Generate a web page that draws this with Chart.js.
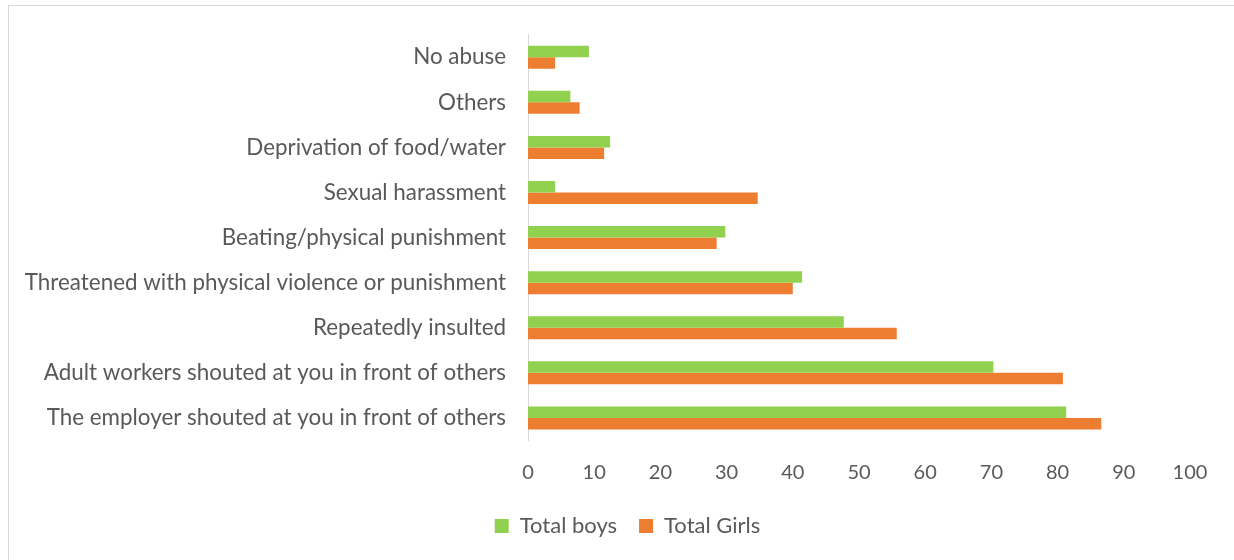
<!DOCTYPE html>
<html>
<head>
<meta charset="utf-8">
<script src="https://cdn.jsdelivr.net/npm/chart.js@4.4.0/dist/chart.umd.min.js"></script>
<style>
  html, body { margin: 0; padding: 0; background: #fff; }
  #wrap {
    position: absolute; left: 8px; top: 5px;
    width: 1240px; height: 570px;
    border: 1px solid #d9d9d9; box-sizing: border-box;
  }
  #box { position: absolute; left: 0; top: 0; width: 1226px; height: 555px; }
</style>
</head>
<body>
<div id="wrap"><div id="box"><canvas id="myChart"></canvas></div></div>
<script>
// abuse categories, listed top to bottom
const CATEGORIES = [
    'No abuse',
    'Others',
    'Deprivation of food/water',
    'Sexual harassment',
    'Beating/physical punishment',
    'Threatened with physical violence or punishment',
    'Repeatedly insulted',
    'Adult workers shouted at you in front of others',
    'The employer shouted at you in front of others'
];
const BOYS = [9.2, 6.4, 12.4, 4.1, 29.8, 41.4, 47.7, 70.3, 81.3];
const GIRLS = [4.1, 7.8, 11.5, 34.7, 28.5, 40.0, 55.7, 80.8, 86.6];
const X_TICKS = [0, 10, 20, 30, 40, 50, 60, 70, 80, 90, 100];

const FONT = 'Lato, "Liberation Sans", sans-serif';
const TEXT = '#595959';

// nudge the legend so it sits under the middle of the whole frame
const legendShift = {
    id: 'legendShift',
    afterLayout: function(chart) {
        chart.legend.left += 28;
        chart.legend.right += 28;
    }
};

var ctx = document.getElementById('myChart');
const chart = new Chart(ctx, {
    type: 'bar',
    data: {
        labels: CATEGORIES,
        datasets: [{
            label: 'Total boys',
            backgroundColor: '#92d050',
            data: BOYS,
            barPercentage: 1,
            categoryPercentage: 0.51
        }, {
            label: 'Total Girls',
            backgroundColor: '#ed7d31',
            data: GIRLS,
            barPercentage: 1,
            categoryPercentage: 0.51
        }]
    },
    plugins: [legendShift],
    options: {
        indexAxis: 'y',
        responsive: true,
        maintainAspectRatio: false,
        animation: false,
        layout: {padding: {left: 0, right: 45, top: 28.7, bottom: 14}},
        scales: {
            x: {
                min: 0, max: 100,
                afterBuildTicks: function(axis) {
                    axis.ticks = X_TICKS.map(v => ({value: v}));
                },
                afterFit: function(axis) { axis.height = 52.5; },
                grid: {display: false, drawTicks: false},
                border: {display: false},
                ticks: {color: TEXT, font: {family: FONT, size: 20}, padding: 20.5}
            },
            y: {
                afterFit: function(axis) {
                    axis.width = 519;
                    // labels sit beside the bars, no extra room needed above
                    axis.paddingTop = 0;
                    axis.paddingBottom = 0;
                },
                grid: {display: false, drawTicks: false},
                border: {display: true, color: '#d9d9d9', width: 1},
                ticks: {color: TEXT, font: {family: FONT, size: 22.4}, padding: 22}
            }
        },
        plugins: {
            tooltip: {enabled: false},
            legend: {
                position: 'bottom',
                labels: {
                    color: TEXT,
                    font: {family: FONT, size: 22},
                    boxWidth: 14, boxHeight: 14,
                    padding: 22
                }
            }
        }
    }
});
</script>
</body>
</html>
